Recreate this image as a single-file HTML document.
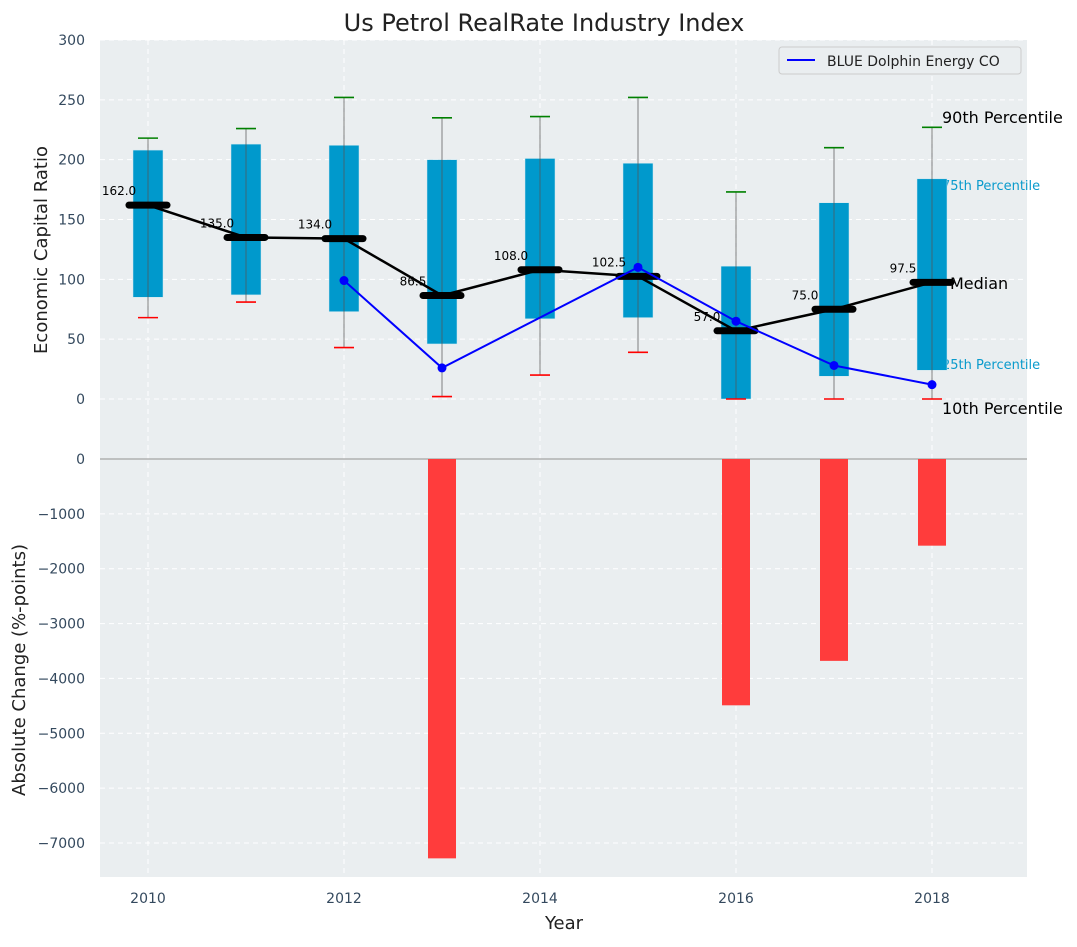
<!DOCTYPE html>
<html><head><meta charset="utf-8"><style>
body{margin:0;background:#fff;font-family:"Liberation Sans","DejaVu Sans",sans-serif;}
svg text{font-family:"DejaVu Sans","Liberation Sans",sans-serif;}
</style></head><body>
<svg id="c" width="1077" height="942" xmlns="http://www.w3.org/2000/svg"></svg>
<script>
const years=[2010,2011,2012,2013,2014,2015,2016,2017,2018];
const q1=[85,87,73,46,67,68,0,19,24];
const q3=[208,213,212,200,201,197,111,164,184];
const p10=[68,81,43,2,20,39,0,0,0];
const p90=[218,226,252,235,236,252,173,210,227];
const medians=[162,135,134,86.5,108,102.5,57,75,97.5];
const blueYears=[2012,2013,2015,2016,2017,2018];
const blueVals=[99,26,110,65,28,12];
const changeYears=[2013,2016,2017,2018];
const changeVals=[-7280,-4490,-3680,-1580];
const topTicks=[0,50,100,150,200,250,300];
const botTicks=[0,-1000,-2000,-3000,-4000,-5000,-6000,-7000];
const xTicks=[2010,2012,2014,2016,2018];

const NS="http://www.w3.org/2000/svg";
const svg=document.getElementById('c');
const X=v=>148+(v-2010)*98;
const YT=v=>399-v*(359/300);
const YB=v=>459-v*(-384/-7000);
function mk(tag,attrs,parent){const e=document.createElementNS(NS,tag);for(const k in attrs)e.setAttribute(k,attrs[k]);(parent||svg).appendChild(e);return e;}
function txt(s,attrs){const e=mk('text',attrs);e.textContent=s;return e;}

const bg=mk('rect',{x:100,y:40,width:927,height:837,fill:'#eaeef0'});


topTicks.forEach(t=>{const l=mk('line',{x1:100,x2:1027,y1:YT(t),y2:YT(t),stroke:'#fff','stroke-dasharray':'5,4','stroke-width':1});


const tl=txt(String(t),{x:85,y:YT(t)+5,'text-anchor':'end','font-size':14,fill:'#34495e'});

});
botTicks.forEach(t=>{if(t!==0){const l=mk('line',{x1:100,x2:1027,y1:YB(t),y2:YB(t),stroke:'#fff','stroke-dasharray':'5,4','stroke-width':1});

}
const tl=txt(String(t).replace('-','\u2212'),{x:85,y:YB(t)+5,'text-anchor':'end','font-size':14,fill:'#34495e'});

});
xTicks.forEach(t=>{const l=mk('line',{x1:X(t),x2:X(t),y1:40,y2:877,stroke:'#fff','stroke-dasharray':'5,4','stroke-width':1});


const tl=txt(String(t),{x:X(t),y:903,'text-anchor':'middle','font-size':14,fill:'#34495e'});

});
const zl=mk('line',{x1:100,x2:1027,y1:459,y2:459,stroke:'#b0b0b0','stroke-width':1.5});



const ann=[['90th Percentile',942,123,16,'#000'],['75th Percentile',942,190,13,'#0a9bcc'],['Median',950,289,16,'#000'],['25th Percentile',942,369,13,'#0a9bcc'],['10th Percentile',942,414,16,'#000']];
ann.forEach(a=>{const t=txt(a[0],{x:a[1],y:a[2],'font-size':a[3],fill:a[4]});

});

years.forEach((y,i)=>{
const b=mk('rect',{x:X(y)-15,y:YT(q3[i]),width:30,height:YT(q1[i])-YT(q3[i]),fill:'#0099cc',stroke:'#cfe8f0','stroke-width':0.5});


const w=mk('line',{x1:X(y),x2:X(y),y1:YT(p90[i]),y2:YT(p10[i]),stroke:'#555','stroke-opacity':0.6,'stroke-width':1.2});


const hi=mk('line',{x1:X(y)-10,x2:X(y)+10,y1:YT(p90[i]),y2:YT(p90[i]),stroke:'green','stroke-width':1.6});


const lo=mk('line',{x1:X(y)-10,x2:X(y)+10,y1:YT(p10[i]),y2:YT(p10[i]),stroke:'red','stroke-width':1.6});


});
years.forEach((y,i)=>{const t=txt(medians[i].toFixed(1),{x:X(y)-29,y:YT(medians[i])-10,'text-anchor':'middle','font-size':12,fill:'#000'});

});
const ml=mk('polyline',{points:years.map((y,i)=>X(y)+','+YT(medians[i])).join(' '),fill:'none',stroke:'#000','stroke-width':2.5});


years.forEach((y,i)=>{const s=mk('line',{x1:X(y)-19,x2:X(y)+19,y1:YT(medians[i]),y2:YT(medians[i]),stroke:'#000','stroke-width':7,'stroke-linecap':'round'});

});
const bl=mk('polyline',{points:blueYears.map((y,i)=>X(y)+','+YT(blueVals[i])).join(' '),fill:'none',stroke:'#0000ff','stroke-width':2});


blueYears.forEach((y,i)=>{const c=mk('circle',{cx:X(y),cy:YT(blueVals[i]),r:4.5,fill:'#0000ff'});

});
changeYears.forEach((y,i)=>{const r=mk('rect',{x:X(y)-14,y:459,width:28,height:YB(changeVals[i])-459,fill:'#ff3c3c'});

});

const lg=mk('g',{});


mk('rect',{x:779,y:47,width:242,height:27,rx:3,fill:'#eaeef0',stroke:'#cccccc'},lg);
mk('line',{x1:787,x2:815,y1:60,y2:60,stroke:'#0000ff','stroke-width':2},lg);
const lt=mk('text',{x:827,y:66,'font-size':14,fill:'#222'},lg);lt.textContent='BLUE Dolphin Energy CO';

const ti=txt('Us Petrol RealRate Industry Index',{x:544,y:31,'text-anchor':'middle','font-size':24,fill:'#222'});


const xl=txt('Year',{x:564,y:929,'text-anchor':'middle','font-size':18,fill:'#222'});


const y1=txt('Economic Capital Ratio',{x:47,y:250,'text-anchor':'middle','font-size':18,fill:'#222',transform:'rotate(-90 47 250)'});


const y2=txt('Absolute Change (%-points)',{x:25,y:670,'text-anchor':'middle','font-size':18,fill:'#222',transform:'rotate(-90 25 670)'});


</script>
</body></html>
